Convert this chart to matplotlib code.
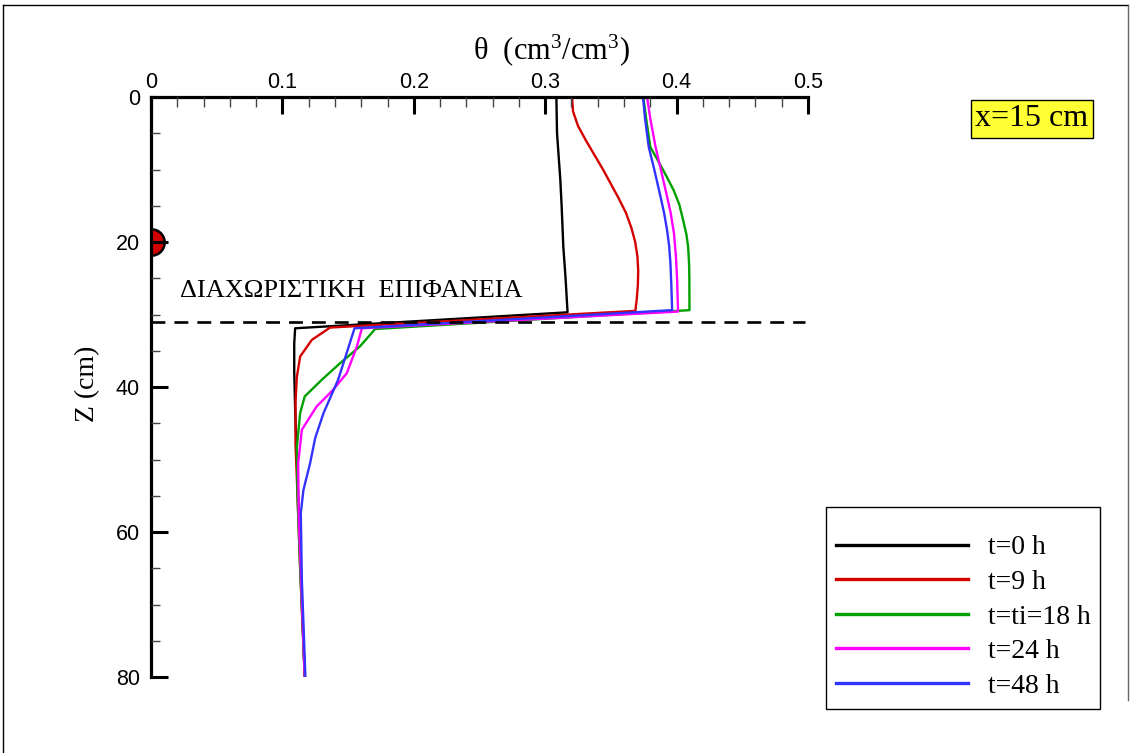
import matplotlib
matplotlib.use('Agg')
import matplotlib.pyplot as plt
from matplotlib.lines import Line2D
import numpy as np

plt.rcParams['lines.scale_dashes'] = False
plt.rcParams['mathtext.fontset'] = 'custom'
plt.rcParams['mathtext.rm'] = 'Liberation Serif'
plt.rcParams['mathtext.it'] = 'Liberation Serif:italic'

# soil moisture profiles theta(z) at x=15 cm
z_0 = [0, 5, 11.4, 15, 20.7, 25, 29.7, 31.9, 34, 38, 45, 55, 65, 80]
th_0 = [0.3085, 0.309, 0.3115, 0.3125, 0.3138, 0.3155, 0.317, 0.1097, 0.109, 0.109, 0.110, 0.112, 0.114, 0.117]

z_9 = [0, 2, 4, 6, 8, 10, 12, 14, 16, 18, 20, 22, 24, 26, 28, 29.5,
       31.8, 33.5, 35.8, 38.6, 42, 48, 55, 65, 80]
th_9 = [0.3204, 0.3212, 0.325, 0.331, 0.3375, 0.344, 0.350, 0.356, 0.3615, 0.3655, 0.3685, 0.3702, 0.3708,
        0.3705, 0.3696, 0.3686,
        0.1363, 0.1224, 0.1135, 0.111, 0.110, 0.110, 0.1115, 0.1135, 0.117]

z_18 = [0, 3.2, 6.9, 8.5, 10.5, 12.8, 14.8, 17.0, 19, 20.7, 23, 25, 29.4,
        32.0, 34.4, 36.7, 39.0, 41.3, 43.6, 48.3, 55, 65, 80]
th_18 = [0.3747, 0.377, 0.380, 0.385, 0.391, 0.3976, 0.402, 0.405, 0.4075, 0.4088, 0.4095, 0.4097, 0.4098,
         0.1706, 0.159, 0.144, 0.130, 0.117, 0.1135, 0.111, 0.1115, 0.1135, 0.117]

z_24 = [0, 3, 6.9, 10, 13.7, 16, 18.8, 22, 25.2, 29.6,
        31.9, 34.4, 38.1, 40.5, 42.7, 45.9, 50.5, 58, 68, 80]
th_24 = [0.3775, 0.380, 0.384, 0.388, 0.3927, 0.3955, 0.398, 0.3995, 0.4004, 0.4011,
         0.1605, 0.1567, 0.149, 0.138, 0.126, 0.1148, 0.112, 0.1125, 0.1145, 0.117]

z_48 = [0, 3, 6.9, 10, 13.7, 16, 18.3, 20.5, 22.9, 26, 29.4,
        31.9, 34.7, 39.0, 43.6, 47, 50.5, 54.2, 57.4, 66.6, 80]
th_48 = [0.3744, 0.376, 0.3788, 0.383, 0.3877, 0.3905, 0.3927, 0.3943, 0.3953, 0.396, 0.3966,
         0.1549, 0.150, 0.1424, 0.1313, 0.125, 0.1211, 0.116, 0.114, 0.1148, 0.1175]

labels = ['t=0 h', 't=9 h', 't=ti=18 h', 't=24 h', 't=48 h']
colors = ['black', '#d40000', '#00a000', '#ff00ff', '#3333ff']

interface_z = 31
sensor_z = 20

fig = plt.figure(figsize=(11.32, 7.53), dpi=100)
ax = fig.add_axes([151/1132, 1 - 677/753, 657/1132, 580/753])

series = [(th_0, z_0), (th_9, z_9), (th_18, z_18), (th_24, z_24), (th_48, z_48)]
handles = []
for (th, z), c, lab in zip(series, colors, labels):
    h, = ax.plot(th, z, color=c, lw=1.7, label=lab, zorder=2)
    handles.append(h)

# interface line
ax.plot([0, 0.498], [interface_z, interface_z], color='black', lw=1.9,
        dashes=(10, 6.5), zorder=2)

# sensor marker on the axis
ax.plot(0, sensor_z, 'o', ms=19, mfc='#d00000', mec='black', mew=1.8, zorder=2)

ax.text(0.022, 26.8, 'ΔΙΑΧΩΡΙΣΤΙΚΗ  ΕΠΙΦΑΝΕΙΑ', family='Liberation Serif',
        fontsize=19, va='center', ha='left')

ax.set_xlim(0, 0.5)
ax.set_ylim(80, 0)
ax.set_axisbelow(False)

ax.xaxis.tick_top()
ax.set_xticks([0, 0.1, 0.2, 0.3, 0.4, 0.5])
ax.set_xticklabels(['0', '0.1', '0.2', '0.3', '0.4', '0.5'])
ax.set_xticks(np.arange(0, 0.5, 0.02), minor=True)
ax.set_yticks([0, 20, 40, 60, 80])
ax.set_yticks(np.arange(0, 80, 5), minor=True)

for s in ['right', 'bottom']:
    ax.spines[s].set_visible(False)
for s in ['left', 'top']:
    ax.spines[s].set_linewidth(2.3)

ax.tick_params(which='major', direction='in', length=12, width=2.2,
               labelsize=15.5, labelfontfamily='Liberation Sans')
ax.tick_params(axis='x', which='major', pad=3)
ax.tick_params(axis='y', which='major', pad=8)
ax.tick_params(which='minor', direction='in', length=6.5, width=1, color='#444444')
ax.tick_params(axis='x', which='minor', length=7.5)

fig.text(552/1132, 1 - 50/753, r'θ  (cm$^{3}$/cm$^{3}$)', family='Liberation Serif',
         fontsize=22, ha='center', va='center')
fig.text(88/1132, 1 - 384/753, 'Z (cm)', family='Liberation Serif',
         fontsize=20, rotation=90, ha='center', va='center')

fig.text(1032/1132, 1 - 119/753, 'x=15 cm', family='Liberation Serif',
         fontsize=23, ha='center', va='center',
         bbox=dict(boxstyle='square,pad=0.14', facecolor='#ffff33', edgecolor='black', lw=1))

leg = fig.legend(handles=handles, loc='upper left',
                 bbox_to_anchor=(826/1132, 1 - 507/753), borderaxespad=0,
                 prop={'family': 'Liberation Serif', 'size': 20},
                 handlelength=4.75, handletextpad=0.72, labelspacing=0.33,
                 borderpad=0.35, fancybox=False, framealpha=1, edgecolor='black',
                 title=' ', title_fontsize=6)
leg.get_frame().set_linewidth(1)
for l in leg.get_lines():
    l.set_linewidth(2.4)

# outer frame
fig.add_artist(Line2D([3/1132, 1128/1132], [1 - 5/753, 1 - 5/753], color='black', lw=1))
fig.add_artist(Line2D([3/1132, 3/1132], [0, 1 - 5/753], color='black', lw=1))
fig.add_artist(Line2D([1128/1132, 1128/1132], [1 - 700/753, 1 - 5/753], color='#666666', lw=1))

fig.savefig('out.png', dpi=100)
